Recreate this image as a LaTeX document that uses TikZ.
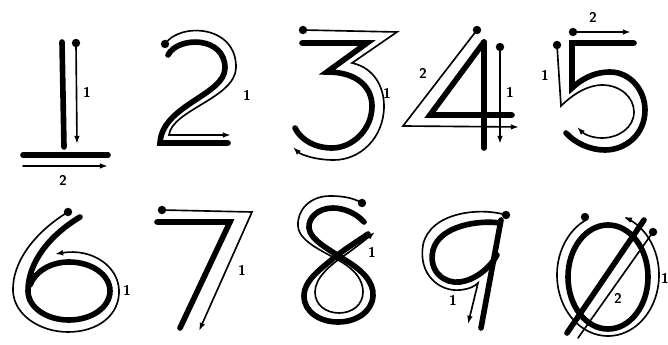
\documentclass[tikz,border=0pt]{standalone}
\usetikzlibrary{arrows.meta}
\begin{document}
\begin{tikzpicture}[x=0.03cm, y=-0.03cm, line cap=round,
    stroke/.style={black, line width=4.8pt},
    guide/.style={black, line width=1.4pt},
    guidearrow/.style={guide, -{Latex[length=7pt,width=4.8pt]}},
    lbl/.style={font=\fontsize{12}{12}\selectfont\sffamily\bfseries, inner sep=0pt}]
    % Page frame in pixel units of the reference
    \useasboundingbox (0,0) rectangle (668,345);
    \def\dotr{3.6pt}

    % Digit 1
    \draw[stroke] (62,42) -- (64,147);
    \draw[stroke] (23,155) -- (108,155);
    \fill (76,43) circle (\dotr);
    \draw[guidearrow] (76,43) -- (77,144);
    \draw[guidearrow] (23,166) -- (108,166);
    \node[lbl] (one1) at (87,92) {1};
    \node[lbl] (one2) at (63,180) {2};

    % Digit 2
    \draw[stroke] (168,55) .. controls (178,36) and (225,36) .. (225,68)
        .. controls (225,95) and (162,105) .. (160,143) -- (228,143);
    \fill (165,44) circle (\dotr);
    \draw[guidearrow] (165,44) .. controls (180,22) and (237,25) .. (236,68)
        .. controls (235,98) and (172,110) .. (169,135) -- (231,135);
    \node[lbl] (two1) at (247,95) {1};

    % Digit 3
    \draw[stroke] (302,43) -- (367,43) -- (327,72)
        .. controls (358,72) and (372,88) .. (372,106)
        .. controls (372,130) and (352,148) .. (332,148)
        .. controls (315,148) and (301,140) .. (295,128);
    \fill (303,30) circle (\dotr);
    \draw[guidearrow] (303,30) -- (397,32) -- (352,63)
        .. controls (375,68) and (384,88) .. (384,106)
        .. controls (384,138) and (360,160) .. (334,160)
        .. controls (314,160) and (300,154) .. (293,147);
    \node[lbl] (three1) at (387,93) {1};

    % Digit 4
    \draw[stroke] (484,42) -- (430,115) -- (512,115);
    \draw[stroke] (484,42) -- (484,148);
    \fill (477,30) circle (\dotr);
    \draw[guidearrow] (477,30) -- (403,126) -- (519,127);
    \fill (500,47) circle (\dotr);
    \draw[guidearrow] (500,47) -- (500,144);
    \node[lbl] (four2) at (423,73) {2};
    \node[lbl] (four1) at (510,92) {1};

    % Digit 5
    \draw[stroke] (634,43) -- (572,43) -- (572,88)
        .. controls (585,76) and (598,72) .. (610,72)
        .. controls (630,72) and (645,90) .. (645,110)
        .. controls (645,135) and (625,150) .. (605,150)
        .. controls (590,150) and (575,143) .. (566,133);
    \fill (573,32) circle (\dotr);
    \draw[guidearrow] (573,32) -- (631,32);
    \fill (557,45) circle (\dotr);
    \draw[guidearrow] (557,45) -- (561,106)
        .. controls (575,92) and (590,85) .. (602,85)
        .. controls (620,85) and (634,97) .. (634,112)
        .. controls (634,128) and (618,138) .. (602,138)
        .. controls (592,138) and (584,134) .. (577,127);
    \node[lbl] (five2) at (593,17) {2};
    \node[lbl] (five1) at (545,75) {1};

    % Digit 6
    \draw[stroke] (80,217) .. controls (50,235) and (28,262) .. (28,291)
        .. controls (28,307) and (46,320) .. (69,320)
        .. controls (92,320) and (110,307) .. (110,291)
        .. controls (110,275) and (92,262) .. (69,262)
        .. controls (50,262) and (35,272) .. (30,285);
    \fill (68,212) circle (\dotr);
    \draw[guidearrow] (68,212) .. controls (35,232) and (12,262) .. (13,291)
        .. controls (14,315) and (40,332) .. (68,332)
        .. controls (98,332) and (120,315) .. (119,290)
        .. controls (118,266) and (92,248) .. (55,254);
    \node[lbl] (six1) at (127,290) {1};

    % Digit 7
    \draw[stroke] (157,222) -- (230,222) -- (180,328);
    \fill (162,210) circle (\dotr);
    \draw[guidearrow] (162,210) -- (252,212) -- (199,331);
    \node[lbl] (seven1) at (242,270) {1};

    % Digit 8
    \draw[stroke] (364,222) .. controls (355,212) and (342,208) .. (333,208)
        .. controls (318,208) and (308,218) .. (309,228)
        .. controls (310,240) and (330,250) .. (345,260)
        .. controls (362,270) and (374,282) .. (373,296)
        .. controls (372,312) and (356,322) .. (338,322)
        .. controls (320,322) and (304,312) .. (304,296)
        .. controls (304,280) and (322,268) .. (335,257)
        .. controls (345,249) and (358,241) .. (368,234);
    \fill (362,203) circle (\dotr);
    \draw[guidearrow] (362,203) .. controls (352,197) and (340,196) .. (330,196)
        .. controls (310,196) and (297,210) .. (298,226)
        .. controls (299,245) and (335,255) .. (350,268)
        .. controls (360,276) and (363,285) .. (363,292)
        .. controls (363,305) and (352,313) .. (339,313)
        .. controls (326,313) and (315,305) .. (315,292)
        .. controls (315,278) and (330,265) .. (345,255)
        .. controls (355,248) and (365,240) .. (375,232);
    \node[lbl] (eight1) at (372,252) {1};

    % Digit 9
    \draw[stroke] (500,223) .. controls (480,220) and (440,225) .. (433,250)
        .. controls (428,272) and (445,284) .. (460,282)
        .. controls (475,280) and (490,268) .. (497,255);
    \draw[stroke] (501,220) -- (481,328);
    \fill (506,215) circle (\dotr);
    \draw[guidearrow] (506,215) .. controls (480,207) and (430,212) .. (423,245)
        .. controls (418,275) and (440,292) .. (460,290)
        .. controls (470,289) and (475,286) .. (478,283) -- (468,324);
    \node[lbl] (nine1) at (453,300) {1};

    % Digit 0
    \draw[stroke] (608,277) ellipse [x radius=40, y radius=52];
    \draw[stroke] (644,220) -- (567,333);
    \fill (585,217) circle (\dotr);
    \draw[guidearrow, samples=120, domain=115:432]
        plot ({608+51*cos(\x)}, {275-61*sin(\x)});
    \fill (653,232) circle (\dotr);
    \draw[guide] (653,232) -- (578,338);
    \node[lbl] (zero2) at (618,298) {2};
    \node[lbl] (zero1) at (665,278) {1};
\end{tikzpicture}
\end{document}
